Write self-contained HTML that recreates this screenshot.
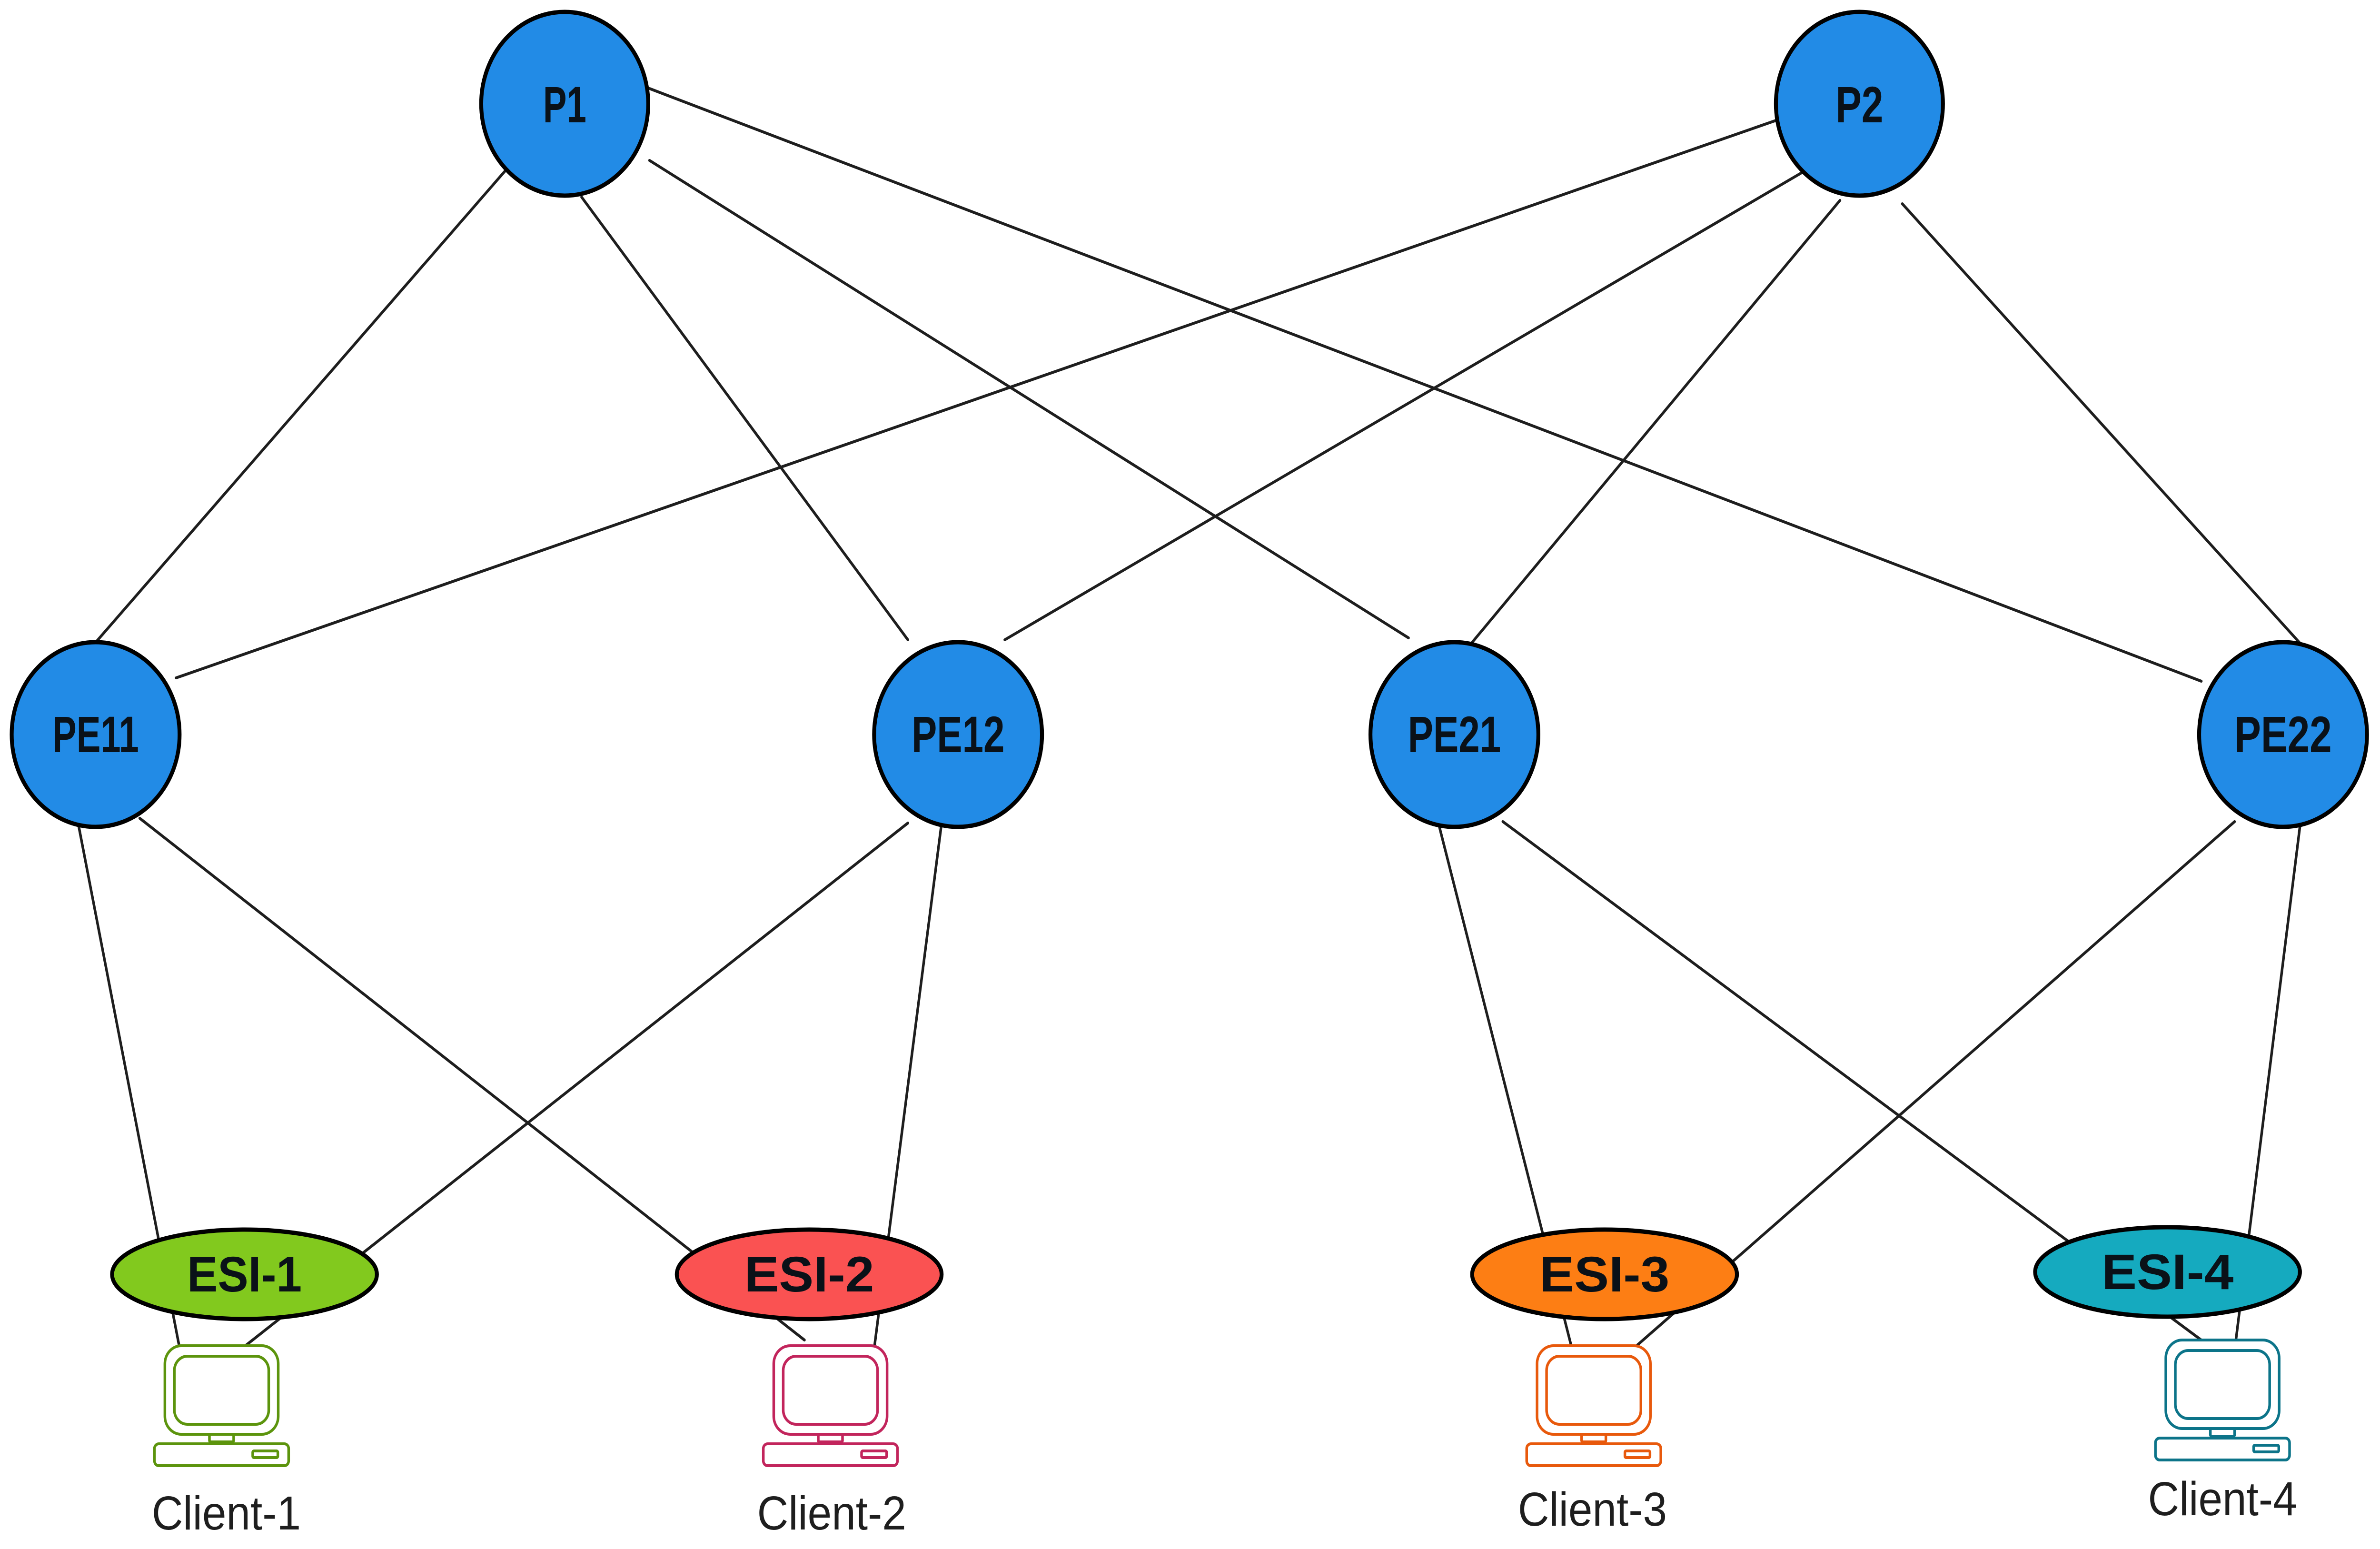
<!DOCTYPE html>
<html><head><meta charset="utf-8"><style>
html,body{margin:0;padding:0;background:#fff;width:100%;height:100%;overflow:hidden;}
svg{display:block;position:fixed;left:0;top:0;width:100vw;height:100vh;}
text{font-family:"Liberation Sans",sans-serif;font-weight:bold;fill:#0a1118;text-anchor:middle;}
.lbl{font-weight:normal;fill:#1e1e1e;}
</style></head><body>
<svg viewBox="0 0 5500 3254" preserveAspectRatio="none" xmlns="http://www.w3.org/2000/svg">
<g stroke="#1e1e1e" stroke-width="6" stroke-linecap="round" fill="none">
<line x1="1175" y1="351" x2="210" y2="1361"/>
<line x1="1344" y1="414" x2="2098" y2="1344"/>
<line x1="1501" y1="337" x2="3255" y2="1340"/>
<line x1="1501" y1="186" x2="5087" y2="1431"/>
<line x1="4104" y1="253" x2="407" y2="1424"/>
<line x1="4167" y1="361" x2="2322" y2="1344"/>
<line x1="4252" y1="421" x2="3385" y2="1368"/>
<line x1="4396" y1="428" x2="5315" y2="1351"/>
<line x1="182" y1="1736" x2="414" y2="2827"/>
<line x1="323" y1="1719" x2="1859" y2="2815"/>
<line x1="2098" y1="1729" x2="567" y2="2827"/>
<line x1="2175" y1="1736" x2="2021" y2="2827"/>
<line x1="3326" y1="1736" x2="3631" y2="2827"/>
<line x1="3473" y1="1726" x2="5087" y2="2815"/>
<line x1="5164" y1="1726" x2="3782" y2="2827"/>
<line x1="5315" y1="1736" x2="5167" y2="2815"/>
</g>
<g stroke="#000" stroke-width="9" fill="#228be6">
<circle cx="1305" cy="218" r="193"/>
<circle cx="4297" cy="218" r="193"/>
<circle cx="221" cy="1543" r="194"/>
<circle cx="2214" cy="1543" r="194"/>
<circle cx="3361" cy="1543" r="194"/>
<circle cx="5276" cy="1543" r="194"/>
</g>
<g font-size="108">
<text x="1305" y="257" textLength="100" lengthAdjust="spacingAndGlyphs">P1</text>
<text x="4297" y="257" textLength="110" lengthAdjust="spacingAndGlyphs">P2</text>
<text x="221" y="1580" textLength="200" lengthAdjust="spacingAndGlyphs">PE11</text>
<text x="2214" y="1580" textLength="215" lengthAdjust="spacingAndGlyphs">PE12</text>
<text x="3361" y="1580" textLength="215" lengthAdjust="spacingAndGlyphs">PE21</text>
<text x="5276" y="1580" textLength="225" lengthAdjust="spacingAndGlyphs">PE22</text>
</g>
<g stroke="#000" stroke-width="9">
<ellipse cx="565" cy="2677" rx="306" ry="94" fill="#82c91e"/>
<ellipse cx="1870" cy="2677" rx="306" ry="94" fill="#fa5252"/>
<ellipse cx="3708" cy="2677" rx="306" ry="94" fill="#fd7e14"/>
<ellipse cx="5009" cy="2672" rx="306" ry="94" fill="#15aabf"/>
</g>
<g font-size="105">
<text x="565" y="2713" textLength="265" lengthAdjust="spacingAndGlyphs">ESI-1</text>
<text x="1870" y="2713" textLength="300" lengthAdjust="spacingAndGlyphs">ESI-2</text>
<text x="3708" y="2713" textLength="300" lengthAdjust="spacingAndGlyphs">ESI-3</text>
<text x="5009" y="2708" textLength="305" lengthAdjust="spacingAndGlyphs">ESI-4</text>
</g>
<g fill="none" stroke-width="6" stroke="#5c940d" transform="translate(512,2827)">
<rect x="-131" y="0" width="262" height="186" rx="38"/><rect x="-109" y="22" width="218" height="143" rx="30"/><rect x="-28" y="186" width="56" height="16" rx="3"/><rect x="-155" y="206" width="310" height="46" rx="10"/><rect x="72" y="221" width="58" height="14" rx="3"/>
</g>
<g fill="none" stroke-width="6" stroke="#c2255c" transform="translate(1919,2827)">
<rect x="-131" y="0" width="262" height="186" rx="38"/><rect x="-109" y="22" width="218" height="143" rx="30"/><rect x="-28" y="186" width="56" height="16" rx="3"/><rect x="-155" y="206" width="310" height="46" rx="10"/><rect x="72" y="221" width="58" height="14" rx="3"/>
</g>
<g fill="none" stroke-width="6" stroke="#e8590c" transform="translate(3683,2827)">
<rect x="-131" y="0" width="262" height="186" rx="38"/><rect x="-109" y="22" width="218" height="143" rx="30"/><rect x="-28" y="186" width="56" height="16" rx="3"/><rect x="-155" y="206" width="310" height="46" rx="10"/><rect x="72" y="221" width="58" height="14" rx="3"/>
</g>
<g fill="none" stroke-width="6" stroke="#0c7489" transform="translate(5136,2815)">
<rect x="-131" y="0" width="262" height="186" rx="38"/><rect x="-109" y="22" width="218" height="143" rx="30"/><rect x="-28" y="186" width="56" height="16" rx="3"/><rect x="-155" y="206" width="310" height="46" rx="10"/><rect x="72" y="221" width="58" height="14" rx="3"/>
</g>
<g font-size="100">
<text class="lbl" x="523" y="3213">Client-1</text>
<text class="lbl" x="1922" y="3213">Client-2</text>
<text class="lbl" x="3680" y="3205">Client-3</text>
<text class="lbl" x="5136" y="3183">Client-4</text>
</g>
</svg>
</body></html>
